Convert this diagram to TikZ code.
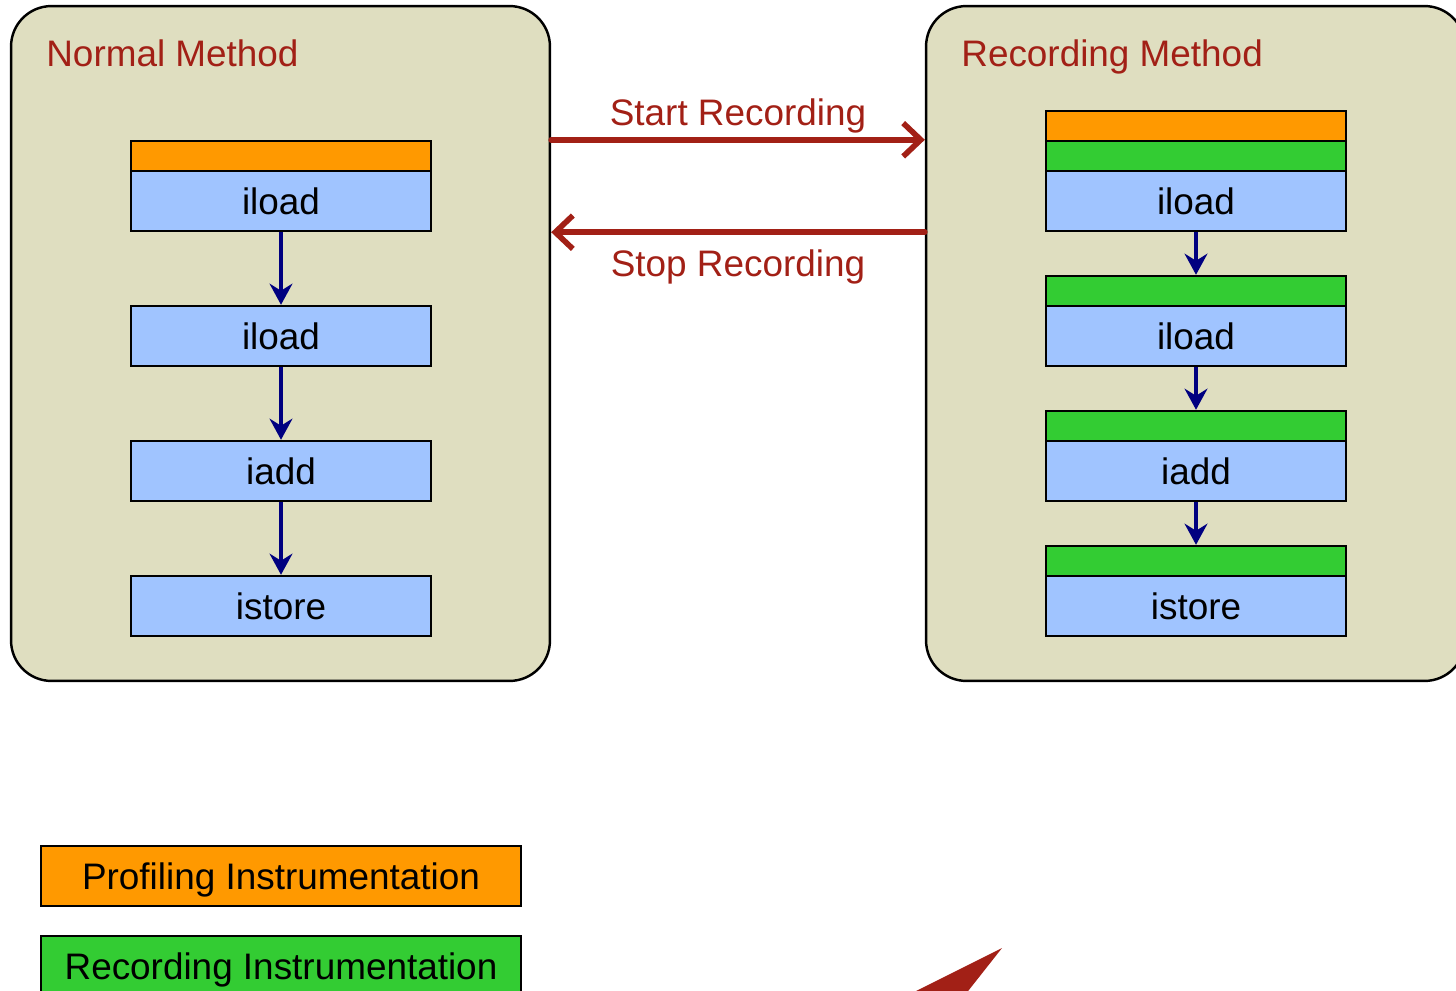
\documentclass[tikz,border=0pt]{standalone}
\usepackage{fontspec}
\setmainfont{Liberation Sans}
\usepackage{tikz}
\usetikzlibrary{arrows.meta,positioning,calc}
\definecolor{panelbeige}{RGB}{223, 222, 192}
\definecolor{blockblue}{RGB}{160, 196, 255}
\definecolor{proforange}{RGB}{255, 153, 0}
\definecolor{recgreen}{RGB}{51, 204, 51}
\definecolor{titlered}{RGB}{162, 32, 22}
\definecolor{flownavy}{RGB}{0, 0, 128}

\tikzset{
    panel/.style={draw=black, line width=1.4pt, fill=panelbeige, rounded corners=23pt,
        minimum width=10.78cm, minimum height=13.5cm, inner sep=0pt},
    blockbox/.style={draw=black, line width=1.4pt, fill=blockblue, minimum width=6cm,
        minimum height=1.2cm, inner sep=0pt, font=\fontsize{21}{25}\selectfont},
    profbar/.style={draw=black, line width=1.4pt, fill=proforange, minimum width=6cm,
        minimum height=0.6cm, inner sep=0pt},
    recbar/.style={profbar, fill=recgreen},
    legendbox/.style={draw=black, line width=1.4pt, minimum width=9.6cm, minimum height=1.2cm,
        inner sep=0pt, text depth=0pt, font=\fontsize{21}{25}\selectfont},
    flow/.style={-{Stealth[length=12pt,width=13pt,inset=4pt]}, line width=2pt, color=flownavy},
    switch/.style={-{Straight Barb[length=10pt,width=19pt]}, line width=3.2pt, line cap=round,
        color=titlered},
    title/.style={anchor=base west, color=titlered, font=\fontsize{21}{25}\selectfont, inner sep=0pt}
}

\begin{document}
\begin{tikzpicture}[x=0.02cm, y=-0.02cm]
    \useasboundingbox (0,0) rectangle (1456,990);
    \clip (0,0) rectangle (1456,990);

    % Panels
    \node[panel] (normal) at (280.5,343.5) {};
    \node[panel] (record) at (1195.5,343.5) {};
    \node[title] (normaltitle) at (46,67) {Normal Method};
    \node[title] (recordtitle) at (961,67) {Recording Method};

    % Normal method blocks
    \node[profbar] (np) at (281,156) {};
    \node[blockbox] (n1) at (281,201) {iload};
    \node[blockbox] (n2) at (281,336) {iload};
    \node[blockbox] (n3) at (281,471) {iadd};
    \node[blockbox] (n4) at (281,606) {istore};
    \draw[flow] (n1) -- (n2);
    \draw[flow] (n2) -- (n3);
    \draw[flow] (n3) -- (n4);

    % Recording method blocks
    \node[profbar] (rp) at (1196,126) {};
    \node[recbar] (rg1) at (1196,156) {};
    \node[blockbox] (r1) at (1196,201) {iload};
    \node[recbar] (rg2) at (1196,291) {};
    \node[blockbox] (r2) at (1196,336) {iload};
    \node[recbar] (rg3) at (1196,426) {};
    \node[blockbox] (r3) at (1196,471) {iadd};
    \node[recbar] (rg4) at (1196,561) {};
    \node[blockbox] (r4) at (1196,606) {istore};
    \draw[flow] (r1) -- (rg2);
    \draw[flow] (r2) -- (rg3);
    \draw[flow] (r3) -- (rg4);

    % Switching between the methods
    \draw[switch] (normal.east |- np.north) -- (record.west |- np.north)
        node[midway, above=-1pt, font=\fontsize{21}{25}\selectfont] (startlbl) {Start Recording};
    \draw[switch] (record.west |- n1.south) -- (normal.east |- n1.south)
        node[midway, below=5pt, font=\fontsize{21}{25}\selectfont] (stoplbl) {Stop Recording};

    % Legend
    \node[legendbox, fill=proforange] (proflegend) at (281,876) {Profiling Instrumentation};
    \node[legendbox, fill=recgreen] (reclegend) at (281,966) {Recording Instrumentation};

    % Red wedge at the bottom edge
    \fill[titlered] (1002,948) -- (898,1000) -- (961,1000) -- cycle;
\end{tikzpicture}
\end{document}
